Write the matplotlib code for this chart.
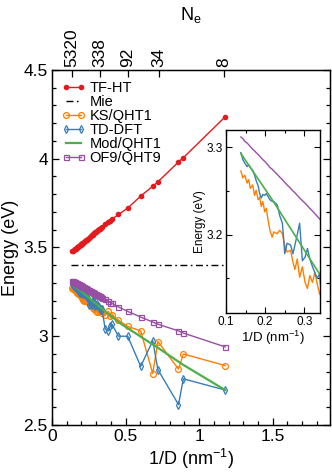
import numpy as np
import matplotlib
matplotlib.use("Agg")
import matplotlib.pyplot as plt
from matplotlib.ticker import MultipleLocator, FormatStrFormatter

plt.rcParams['font.family'] = ['Liberation Sans', 'DejaVu Sans']
plt.rcParams['mathtext.fontset'] = 'custom'
plt.rcParams['mathtext.rm'] = 'Liberation Sans'
plt.rcParams['mathtext.it'] = 'Liberation Sans:italic'

# 1/D (nm^-1) of the clusters
inv_d = [0.138, 0.143, 0.148, 0.154, 0.158, 0.162, 0.168, 0.173, 0.177, 0.182,
         0.186, 0.190, 0.194, 0.199, 0.203, 0.207, 0.212, 0.218, 0.222, 0.231,
         0.237, 0.244, 0.250, 0.256, 0.265, 0.271, 0.276, 0.282, 0.288, 0.295,
         0.302, 0.308, 0.314, 0.321, 0.327, 0.333, 0.339,
         0.362, 0.383, 0.397, 0.408, 0.452, 0.515, 0.603, 0.685, 0.720, 0.860,
         0.893, 1.177]

e_tfht = [3.478, 3.481, 3.485, 3.489, 3.492, 3.494, 3.498, 3.502, 3.504, 3.508,
          3.510, 3.513, 3.516, 3.519, 3.522, 3.525, 3.528, 3.532, 3.535, 3.541,
          3.545, 3.550, 3.554, 3.558, 3.564, 3.568, 3.572, 3.576, 3.580, 3.585,
          3.590, 3.594, 3.598, 3.603, 3.607, 3.611, 3.615,
          3.630, 3.643, 3.652, 3.660, 3.686, 3.722, 3.790, 3.845, 3.870, 3.982,
          4.006, 4.236]

e_ks = [3.273, 3.265, 3.268, 3.259, 3.263, 3.253, 3.257, 3.245, 3.251, 3.240,
        3.243, 3.232, 3.238, 3.226, 3.230, 3.218, 3.205, 3.197, 3.203, 3.201,
        3.205, 3.201, 3.188, 3.180, 3.182, 3.168, 3.160, 3.172, 3.151, 3.163,
        3.145, 3.138, 3.153, 3.145, 3.157, 3.143, 3.132,
        3.120, 3.140, 3.115, 3.120, 3.090, 3.055, 3.030, 2.790, 2.970, 2.815,
        2.900, 2.835]

e_td = [3.294, 3.286, 3.282, 3.278, 3.280, 3.277, 3.274, 3.268, 3.262, 3.256,
        3.247, 3.242, 3.246, 3.245, 3.247, 3.244, 3.240, 3.238, 3.238, 3.234,
        3.222, 3.213, 3.178, 3.190, 3.188, 3.178, 3.188, 3.200, 3.213, 3.170,
        3.174, 3.184, 3.172, 3.163, 3.156, 3.150, 3.155,
        3.040, 3.030, 3.058, 3.067, 3.000, 3.000, 2.830, 2.975, 2.812, 2.615,
        2.760, 2.697]

e_of9 = [3.312, 3.310, 3.307, 3.305, 3.303, 3.301, 3.298, 3.296, 3.294, 3.292,
         3.290, 3.288, 3.286, 3.284, 3.282, 3.280, 3.277, 3.275, 3.273, 3.269,
         3.266, 3.263, 3.260, 3.257, 3.253, 3.250, 3.248, 3.245, 3.242, 3.239,
         3.236, 3.233, 3.230, 3.227, 3.224, 3.221, 3.218,
         3.207, 3.197, 3.190, 3.185, 3.165, 3.140, 3.108, 3.080, 3.068, 3.030,
         3.018, 2.940]

# Mod/QHT1 model curve (no markers)
inv_d_mod = [0.138, 0.218, 0.340, 0.463, 0.720, 0.890, 1.177]
e_mod = [3.293, 3.240, 3.154, 3.073, 2.935, 2.840, 2.697]

# classical Mie value
inv_d_mie = [0.128, 1.177]
e_mie = [3.40, 3.40]

# top axis: number of electrons
ne_labels = ['5320', '338', '92', '34', '8']
ne_pos = [0.136, 0.327, 0.517, 0.728, 1.170]

c_red = '#e41a1c'
c_orange = '#ff7f00'
c_blue = '#377eb8'
c_green = '#4daf4a'
c_purple = '#984ea3'

fig = plt.figure(figsize=(3.32, 4.72), dpi=100)
ax = fig.add_axes([0.1566, 0.0996, 0.8374, 0.7521])

ax.plot(inv_d, e_tfht, '-o', color=c_red, lw=1.0, ms=3.0, label='TF-HT')
ax.plot(inv_d_mie, e_mie, color='black', lw=1.0,
        ls=(0, (5, 2.5, 1.2, 2.5)), label='Mie')
ax.plot(inv_d, e_ks, '-o', color=c_orange, lw=1.0, ms=4.2, mfc='none',
        mew=0.9, label='KS/QHT1')
ax.plot(inv_d, e_td, '-d', color=c_blue, lw=1.0, ms=4.0, mfc='none',
        mew=0.9, label='TD-DFT')
ax.plot(inv_d_mod, e_mod, '-', color=c_green, lw=1.6, label='Mod/QHT1')
ax.plot(inv_d, e_of9, '-s', color=c_purple, lw=1.0, ms=3.6, mfc='none',
        mew=0.9, label='OF9/QHT9')

ax.set_xlim(0, 1.89)
ax.set_ylim(2.5, 4.5)
ax.xaxis.set_major_locator(MultipleLocator(0.5))
ax.xaxis.set_minor_locator(MultipleLocator(0.1))
ax.yaxis.set_major_locator(MultipleLocator(0.5))
ax.yaxis.set_minor_locator(MultipleLocator(0.1))
ax.xaxis.set_major_formatter(FormatStrFormatter('%g'))
ax.yaxis.set_major_formatter(FormatStrFormatter('%g'))
ax.tick_params(which='both', direction='in', top=False, right=True,
               labelsize=12.5, width=0.9)
ax.tick_params(which='major', length=5, pad=3)
ax.tick_params(which='minor', length=3)
for s in ax.spines.values():
    s.set_linewidth(1.0)
ax.set_xlabel('1/D (nm$^{-1}$)', fontsize=13, labelpad=2)
ax.set_ylabel('Energy (eV)', fontsize=13, labelpad=3)

leg = ax.legend(loc='upper left', bbox_to_anchor=(0.035, 0.968), frameon=False,
                fontsize=10.5, numpoints=2, handlelength=1.6, handletextpad=0.3,
                labelspacing=0.0, borderpad=0, borderaxespad=0)

# top axis with N_e
ax2 = ax.twiny()
ax2.set_xlim(ax.get_xlim())
ax2.set_xticks(ne_pos)
ax2.set_xticklabels(ne_labels, rotation=90)
ax2.tick_params(direction='in', length=5, width=0.9, labelsize=12.5, pad=2)
ax2.set_xlabel('N$_\\mathrm{e}$', fontsize=13, labelpad=6)

# inset
axi = fig.add_axes([0.6807, 0.3369, 0.2831, 0.3877])
axi.set_facecolor('white')
axi.plot(inv_d, e_ks, color=c_orange, lw=1.0)
axi.plot(inv_d, e_td, color=c_blue, lw=1.0)
axi.plot(inv_d_mod, e_mod, color=c_green, lw=1.2)
axi.plot(inv_d, e_of9, color=c_purple, lw=1.0)
axi.set_xlim(0.1, 0.34)
axi.set_ylim(3.11, 3.32)
axi.xaxis.set_major_locator(MultipleLocator(0.1))
axi.xaxis.set_minor_locator(MultipleLocator(0.05))
axi.yaxis.set_major_locator(MultipleLocator(0.1))
axi.yaxis.set_minor_locator(MultipleLocator(0.05))
axi.xaxis.set_major_formatter(FormatStrFormatter('%g'))
axi.yaxis.set_major_formatter(FormatStrFormatter('%g'))
axi.tick_params(which='both', direction='in', top=True, right=True,
                labelsize=8.5, width=0.8, pad=2)
axi.tick_params(which='major', length=4)
axi.tick_params(which='minor', length=2.5)
for s in axi.spines.values():
    s.set_linewidth(1.0)
axi.set_xlabel('1/D (nm$^{-1}$)', fontsize=9.5, labelpad=1)
axi.set_ylabel('Energy (eV)', fontsize=8.5, labelpad=1)

fig.savefig('out.png', dpi=100)
